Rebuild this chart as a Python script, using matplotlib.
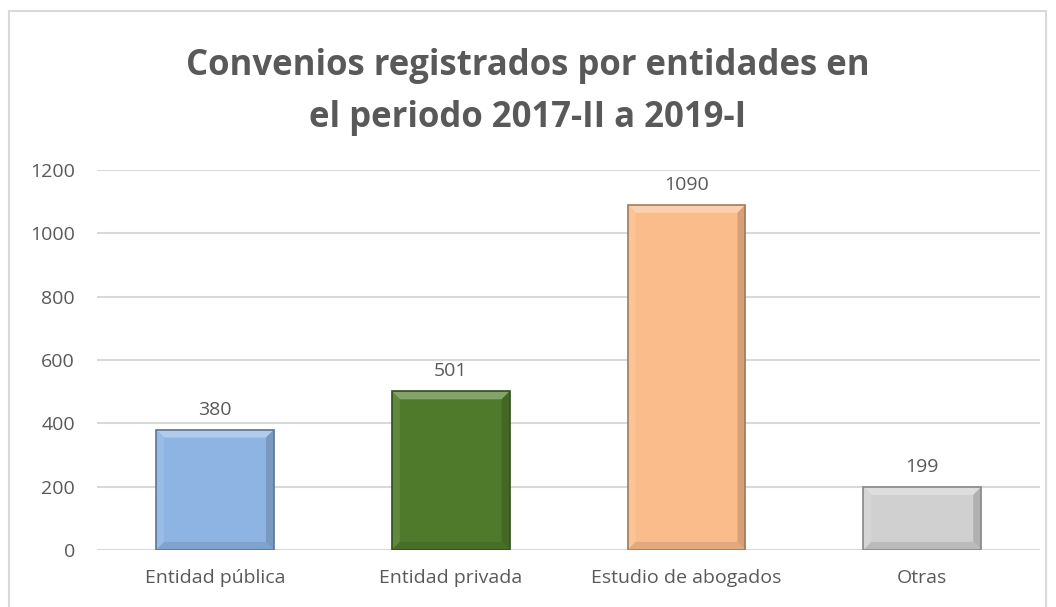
import matplotlib.pyplot as plt
from matplotlib.patches import Rectangle, Polygon
from matplotlib.colors import to_rgb

categorias = ["Entidad pública", "Entidad privada", "Estudio de abogados", "Otras"]
convenios = [380, 501, 1090, 199]
colores = ["#8EB4E3", "#4F7A2B", "#FBBC8C", "#D0D0D0"]
y_ticks = [0, 200, 400, 600, 800, 1000, 1200]

plt.rcParams["font.family"] = ["Open Sans", "DejaVu Sans"]
gris = "#595959"


def mezcla(c, otro, t):
    a, b = to_rgb(c), to_rgb(otro)
    return tuple(a[i] * (1 - t) + b[i] * t for i in range(3))


fig = plt.figure(figsize=(10.56, 6.07), dpi=100)
ax = fig.add_axes([0.092, 0.094, 0.893, 0.626])

# grid first so bars sit on top
ax.set_axisbelow(True)
ax.yaxis.grid(True, color="#D9D9D9", linewidth=1.5)

x = range(len(categorias))
bars = ax.bar(x, convenios, width=0.5, color=colores, edgecolor="none")
ax.set_xlim(-0.5, 3.5)
ax.set_ylim(0, 1200)

# soft bevel on each bar (size in pixels turned into data units)
bev_px = 8
dx = bev_px / (ax.get_position().width * 1056) * 4.0
dy = bev_px / (ax.get_position().height * 607) * 1200
for b, c in zip(bars, colores):
    x0, x1, h = b.get_x(), b.get_x() + b.get_width(), b.get_height()
    top = [(x0, h), (x1, h), (x1 - dx, h - dy), (x0 + dx, h - dy)]
    right = [(x1, h), (x1, 0), (x1 - dx, dy), (x1 - dx, h - dy)]
    bottom = [(x0, 0), (x1, 0), (x1 - dx, dy), (x0 + dx, dy)]
    left = [(x0, 0), (x0, h), (x0 + dx, h - dy), (x0 + dx, dy)]
    for pts, col in [(top, mezcla(c, "white", 0.3)), (left, mezcla(c, "white", 0.1)),
                     (right, mezcla(c, "black", 0.15)), (bottom, mezcla(c, "black", 0.1))]:
        ax.add_patch(Polygon(pts, closed=True, facecolor=col, edgecolor="none", zorder=2.5))
    ax.add_patch(Rectangle((x0, 0), x1 - x0, h, fill=False, edgecolor=mezcla(c, "black", 0.35),
                           linewidth=1.2, zorder=2.6))

# values above bars
for b, v in zip(bars, convenios):
    ax.annotate(str(v), (b.get_x() + b.get_width() / 2, v), xytext=(0, 8),
                textcoords="offset points", ha="center", va="bottom",
                fontsize=14, color=gris)

ax.set_yticks(y_ticks)
ax.set_xticks(list(x))
ax.set_xticklabels(categorias)
ax.tick_params(axis="both", length=0, labelsize=14, colors=gris)
ax.tick_params(axis="x", pad=14)
ax.tick_params(axis="y", pad=16)
for s in ax.spines.values():
    s.set_visible(False)

fig.text(0.5, 0.848, "Convenios registrados por entidades en\nel periodo 2017-II a 2019-I",
         ha="center", va="center", fontsize=25, fontweight="bold", color=gris,
         linespacing=1.6)

# chart frame
fig.patches.append(Rectangle((9 / 1056, -0.05), 1037 / 1056, 1 - 11 / 607 + 0.05,
                             transform=fig.transFigure, fill=False,
                             edgecolor="#D9D9D9", linewidth=1.5))

plt.savefig("out.png", dpi=100)
